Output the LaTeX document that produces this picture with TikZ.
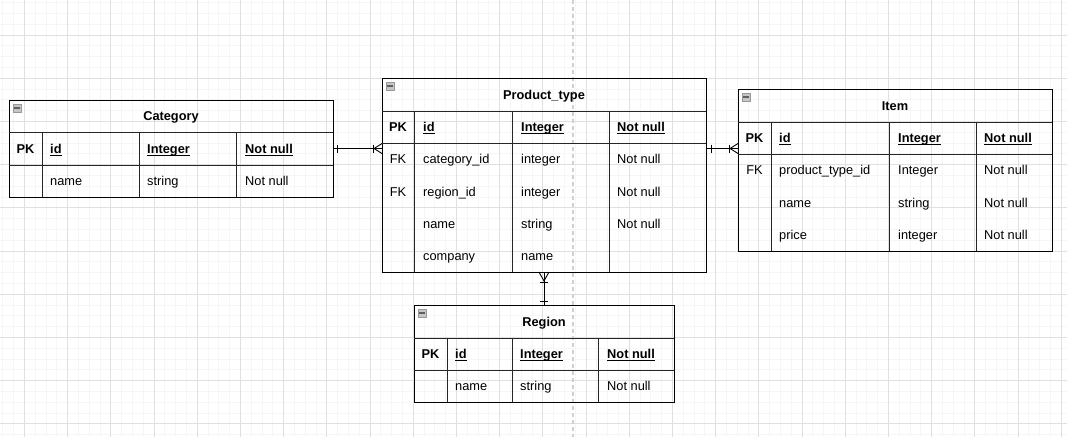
\documentclass[tikz,border=0pt]{standalone}
\usepackage{fontspec}
\setmainfont{Liberation Sans}
\usetikzlibrary{calc}
\newcommand\erfont{\fontsize{12.8}{15}\selectfont}
\newcommand\erul[1]{\setbox0\hbox{#1}\rlap{\vrule width\wd0 height -1.5pt depth 2.5pt}\box0}
\definecolor{gridminor}{HTML}{F6F6F6}
\definecolor{gridmajor}{HTML}{E0E0E0}
\definecolor{pagecol}{HTML}{D0D0D0}
\tikzset{
  minorgrid/.style={draw=gridminor, line width=1pt},
  majorgrid/.style={draw=gridmajor, line width=1pt},
  pageline/.style={draw=pagecol, line width=1.4pt, dash pattern=on 4pt off 3pt},
  tbl/.style={draw=black, line width=1pt, anchor=north west, inner sep=0pt, outer sep=0pt},
  sep/.style={draw=black!85, line width=1pt},
  conn/.style={draw=black, line width=0.9pt},
  icon/.style={draw=gray!80, fill=gray!45, line width=0.7pt},
  iconbar/.style={draw=gray!75!black, line width=1.6pt},
  celltext/.style={anchor=base west, inner sep=0pt, font=\erfont},
  headtext/.style={anchor=base west, inner sep=0pt, font=\erfont\bfseries},
  keytext/.style={anchor=base, inner sep=0pt, font=\erfont\bfseries},
  fktext/.style={anchor=base, inner sep=0pt, font=\erfont},
  titletext/.style={anchor=base, inner sep=0pt, font=\erfont\bfseries},
}
\newcommand\ertxt[4]{\node[celltext] (#1) at (#2,{#3+4.6}) {#4};}
\newcommand\erhead[4]{\node[headtext] (#1) at (#2,{#3+4.6}) {\erul{#4}};}
\newcommand\erkey[4]{\node[keytext] (#1) at (#2,{#3+4.6}) {#4};}
\newcommand\erfk[4]{\node[fktext] (#1) at (#2,{#3+4.6}) {#4};}
\newcommand\ertitle[4]{\node[titletext] (#1) at (#2,{#3+4.6}) {#4};}
\newcommand\ericon[2]{\draw[icon] (#1,#2) rectangle ({#1+8},{#2+8}); \draw[iconbar] ({#1+1.3},{#2+4}) -- ({#1+6.7},{#2+4});}
\begin{document}
\begin{tikzpicture}[x=1pt,y=-1pt]
\useasboundingbox (0,0) rectangle (1067,437);
% background grid
\begin{scope}
\clip (0,0) rectangle (1067,437);
\foreach \i in {-3,...,97} \draw[minorgrid] ({24.5+10.8*\i},0) -- ({24.5+10.8*\i},437);
\foreach \j in {-4,...,38} \draw[minorgrid] (0,{35+10.8*\j}) -- (1067,{35+10.8*\j});
\foreach \i in {-1,...,24} \draw[majorgrid] ({24.5+43.2*\i},0) -- ({24.5+43.2*\i},437);
\foreach \j in {-1,...,10} \draw[majorgrid] (0,{35+43.2*\j}) -- (1067,{35+43.2*\j});
\end{scope}
\draw[pageline] (573,0) -- (573,437);

% ---------- Category ----------
\node[tbl, minimum width=324pt, minimum height=97pt] (cat) at (9,100) {};
\draw[sep] (9,132) -- (333,132);
\draw[sep] (9,165) -- (333,165);
\foreach \c in {42,139,236} \draw[sep] (\c,132) -- (\c,197);
\ericon{13}{104}
\ertitle{catT}{171}{116}{Category}
\erkey{catK}{25.5}{148.5}{PK}
\erhead{catH1}{50}{148.5}{id}
\erhead{catH2}{147}{148.5}{Integer}
\erhead{catH3}{245}{148.5}{Not null}
\ertxt{catA1}{50}{181}{name}
\ertxt{catA2}{147}{181}{string}
\ertxt{catA3}{245}{181}{Not null}

% ---------- Product_type ----------
\node[tbl, minimum width=324pt, minimum height=194pt] (pt) at (382,78) {};
\draw[sep] (382,111) -- (706,111);
\draw[sep] (382,143) -- (706,143);
\foreach \c in {414,512,609} \draw[sep] (\c,111) -- (\c,272);
\ericon{386}{82}
\ertitle{ptT}{544}{94.5}{Product\_type}
\erkey{ptK}{398}{127}{PK}
\erhead{ptH1}{423}{127}{id}
\erhead{ptH2}{521}{127}{Integer}
\erhead{ptH3}{617}{127}{Not null}
\erfk{ptF1}{398}{159}{FK}
\ertxt{ptA1}{423}{159}{category\_id}
\ertxt{ptA2}{521}{159}{integer}
\ertxt{ptA3}{617}{159}{Not null}
\erfk{ptF2}{398}{191.5}{FK}
\ertxt{ptB1}{423}{191.5}{region\_id}
\ertxt{ptB2}{521}{191.5}{integer}
\ertxt{ptB3}{617}{191.5}{Not null}
\ertxt{ptC1}{423}{223.7}{name}
\ertxt{ptC2}{521}{223.7}{string}
\ertxt{ptC3}{617}{223.7}{Not null}
\ertxt{ptD1}{423}{256}{company}
\ertxt{ptD2}{521}{256}{name}

% ---------- Item ----------
\node[tbl, minimum width=314pt, minimum height=162pt] (item) at (738,89) {};
\draw[sep] (738,122) -- (1052,122);
\draw[sep] (738,154) -- (1052,154);
\foreach \c in {771,889,976} \draw[sep] (\c,122) -- (\c,251);
\ericon{742}{93}
\ertitle{itT}{895}{105.5}{Item}
\erkey{itK}{754.5}{138}{PK}
\erhead{itH1}{779}{138}{id}
\erhead{itH2}{898}{138}{Integer}
\erhead{itH3}{984}{138}{Not null}
\erfk{itF1}{754.5}{170}{FK}
\ertxt{itA1}{779}{170}{product\_type\_id}
\ertxt{itA2}{898}{170}{Integer}
\ertxt{itA3}{984}{170}{Not null}
\ertxt{itB1}{779}{202.5}{name}
\ertxt{itB2}{898}{202.5}{string}
\ertxt{itB3}{984}{202.5}{Not null}
\ertxt{itC1}{779}{235}{price}
\ertxt{itC2}{898}{235}{integer}
\ertxt{itC3}{984}{235}{Not null}

% ---------- Region ----------
\node[tbl, minimum width=260pt, minimum height=97pt] (reg) at (414,305) {};
\draw[sep] (414,338) -- (674,338);
\draw[sep] (414,370) -- (674,370);
\foreach \c in {447,512,598} \draw[sep] (\c,338) -- (\c,402);
\ericon{418}{309}
\ertitle{rgT}{544}{321.5}{Region}
\erkey{rgK}{430.5}{354}{PK}
\erhead{rgH1}{455}{354}{id}
\erhead{rgH2}{520}{354}{Integer}
\erhead{rgH3}{607}{354}{Not null}
\ertxt{rgA1}{455}{386}{name}
\ertxt{rgA2}{520}{386}{string}
\ertxt{rgA3}{607}{386}{Not null}

% ---------- connectors ----------
% Category (one) -- Product_type (many)
\coordinate (c1a) at (cat.east);
\coordinate (c1b) at (cat.east -| pt.west);
\draw[conn] (c1a) -- (c1b);
\draw[conn] ($(c1a)+(4,-4)$) -- ($(c1a)+(4,4)$);
\draw[conn] ($(c1b)+(-9,-4)$) -- ($(c1b)+(-9,4)$);
\draw[conn] ($(c1b)+(0,-5)$) -- ($(c1b)+(-8,0)$) -- ($(c1b)+(0,5)$);
% Product_type (one) -- Item (many)
\coordinate (c2a) at (cat.east -| pt.east);
\coordinate (c2b) at (cat.east -| item.west);
\draw[conn] (c2a) -- (c2b);
\draw[conn] ($(c2a)+(5,-4)$) -- ($(c2a)+(5,4)$);
\draw[conn] ($(c2b)+(-9,-4)$) -- ($(c2b)+(-9,4)$);
\draw[conn] ($(c2b)+(0,-5)$) -- ($(c2b)+(-8,0)$) -- ($(c2b)+(0,5)$);
% Region (one) -- Product_type (many)
\coordinate (c3a) at (pt.south);
\coordinate (c3b) at (reg.north);
\draw[conn] (c3a) -- (c3b);
\draw[conn] ($(c3a)+(-4,10)$) -- ($(c3a)+(4,10)$);
\draw[conn] ($(c3a)+(-5,0)$) -- ($(c3a)+(0,9)$) -- ($(c3a)+(5,0)$);
\draw[conn] ($(c3b)+(-4,-4)$) -- ($(c3b)+(4,-4)$);
\end{tikzpicture}
\end{document}
